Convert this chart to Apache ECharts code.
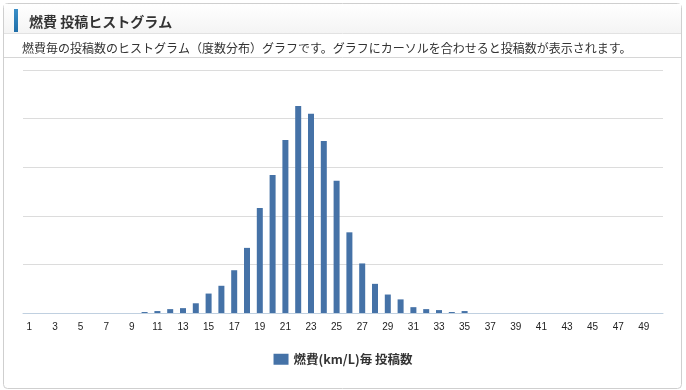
<!DOCTYPE html>
<html>
<head>
<meta charset="utf-8">
<script src="https://cdn.jsdelivr.net/npm/echarts@6/dist/echarts.min.js"></script>
<style>
html,body{margin:0;padding:0;background:#fff;}
#c{width:686px;height:390px;}
</style>
</head>
<body>
<div id="c"></div>
<script>
var categories = ['1','2','3','4','5','6','7','8','9','10','11','12','13','14','15','16','17','18','19','20','21','22','23','24','25','26','27','28','29','30','31','32','33','34','35','36','37','38','39','40','41','42','43','44','45','46','47','48','49','50'];
var counts = [0,0,0,0,0,0,0,0,0,1,2,4,5,10,20,28,44,67,108,142,178,213,205,177,136,83,51,30,19,14,6,4,3,1,2,0,0,0,0,0,0,0,0,0,0,0,0,0,0,0];
var titleText = '燃費 投稿ヒストグラム';
var subText = '燃費毎の投稿数のヒストグラム（度数分布）グラフです。グラフにカーソルを合わせると投稿数が表示されます。';
var seriesName = '燃費(km/L)毎 投稿数';

var font = '"Noto Sans CJK JP", "Noto Sans", sans-serif';
var chart = echarts.init(document.getElementById('c'), null, {renderer: 'canvas'});
chart.setOption({
  animation: false,
  textStyle: {fontFamily: font},
  graphic: [
    {type: 'rect', shape: {x: 3.5, y: 3.5, width: 678, height: 385, r: 4}, style: {fill: '#fff', stroke: '#cfcfcf', lineWidth: 1}, z: -10},
    {type: 'rect', shape: {x: 4, y: 4, width: 677, height: 29}, style: {fill: new echarts.graphic.LinearGradient(0,0,0,1,[{offset:0,color:'#ffffff'},{offset:1,color:'#f4f4f4'}])}, z: -9},
    {type: 'line', shape: {x1: 4, y1: 33.5, x2: 681, y2: 33.5}, style: {stroke: '#e2e2e2', lineWidth: 1}, z: -9},
    {type: 'rect', shape: {x: 14, y: 9, width: 4, height: 23}, style: {fill: new echarts.graphic.LinearGradient(0,0,0,1,[{offset:0,color:'#3a8fc8'},{offset:1,color:'#1f6ea8'}])}, z: -8},
    {type: 'line', shape: {x1: 4, y1: 57.5, x2: 681, y2: 57.5}, style: {stroke: '#d6d6d6', lineWidth: 1}, z: -9}
  ],
  title: [
    {text: titleText, left: 24, top: 10, textStyle: {fontSize: 14, fontWeight: 'bold', color: '#333', fontFamily: font}},
    {text: subText, left: 17, top: 37, textStyle: {fontSize: 12, fontWeight: 'normal', color: '#333', fontFamily: font}}
  ],
  legend: {
    data: [seriesName],
    left: 'center', top: 348,
    itemWidth: 15, itemHeight: 11, itemGap: 7,
    textStyle: {fontSize: 12.5, fontWeight: 'bold', color: '#333', fontFamily: font},
    icon: 'rect'
  },
  tooltip: {trigger: 'axis'},
  grid: {left: 23, right: 23, top: 70, bottom: 77, containLabel: false},
  xAxis: {
    type: 'category',
    data: categories,
    boundaryGap: true,
    axisLine: {lineStyle: {color: '#c0d0e0'}},
    axisTick: {alignWithLabel: true, interval: 1, length: 7, lineStyle: {color: '#c0d0e0'}},
    axisLabel: {interval: 1, fontSize: 10, color: '#222', margin: 9, fontFamily: 'Arial, "Liberation Sans", sans-serif'}
  },
  yAxis: {
    type: 'value', min: 0, max: 250, interval: 50,
    axisLine: {show: false}, axisTick: {show: false},
    axisLabel: {show: false},
    splitLine: {lineStyle: {color: '#dcdcdc', width: 1}}
  },
  series: [{
    name: seriesName,
    type: 'bar',
    data: counts,
    barWidth: 6,
    itemStyle: {color: '#4572A7'}
  }]
});
</script>
</body>
</html>
